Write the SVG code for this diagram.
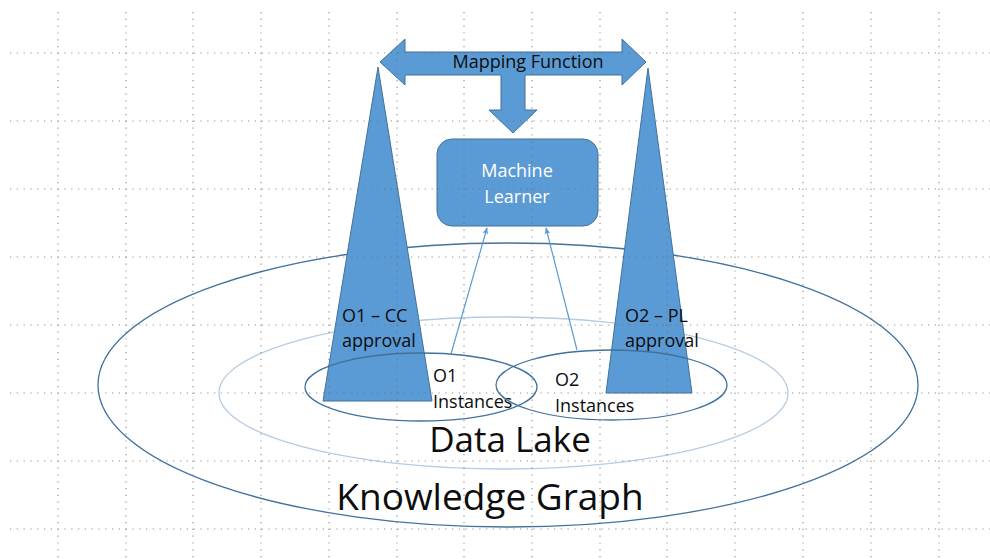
<svg xmlns="http://www.w3.org/2000/svg" width="990" height="559" viewBox="0 0 990 559">
  <style>
    .shape { fill: #5B9BD5; stroke: #41719C; stroke-width: 1; }
    .ring { fill: none; stroke: #41719C; stroke-width: 1.3; }
    .ring-light { fill: none; stroke: #B4CCE4; stroke-width: 1.3; }
    .link { fill: none; stroke: #5B9BD5; stroke-width: 1.2; marker-end: url(#head); }
    .txt { font-family: "Open Sans", "Liberation Sans", sans-serif; fill: #0D0D0D; }
    .grid line { stroke: #6E6E6E; stroke-width: 1.2; stroke-dasharray: 1.2 5.6; }
  </style>
  <defs>
    <marker id="head" viewBox="0 0 10 10" refX="9" refY="5" markerWidth="7" markerHeight="7" orient="auto" markerUnits="userSpaceOnUse">
      <path d="M0,1 L10,5 L0,9 L2.5,5 Z" fill="#5B9BD5"/>
    </marker>
  </defs>
  <rect width="990" height="559" fill="#FFFFFF"/>

  <!-- outer rings -->
  <g id="knowledge-graph">
    <ellipse class="ring" cx="508" cy="385" rx="410" ry="142"/>
    <text class="txt" x="490" y="510" font-size="37" text-anchor="middle">Knowledge Graph</text>
  </g>
  <g id="data-lake">
    <ellipse class="ring-light" cx="503.5" cy="393" rx="284.5" ry="76"/>
    <text class="txt" x="510" y="452" font-size="35" text-anchor="middle">Data Lake</text>
  </g>

  <!-- ontology towers -->
  <g id="o1-cc-approval">
    <polygon class="shape" points="378,67 432,401 323,401"/>
    <text class="txt" font-size="18"><tspan x="342" y="322">O1 – CC</tspan><tspan x="342" y="347">approval</tspan></text>
  </g>
  <g id="o2-pl-approval">
    <polygon class="shape" points="648,68 692,393 606,393"/>
    <text class="txt" font-size="18"><tspan x="625" y="322">O2 – PL</tspan><tspan x="625" y="347">approval</tspan></text>
  </g>

  <!-- instance sets -->
  <g id="o1-instances">
    <ellipse class="ring" cx="421" cy="387" rx="116" ry="34"/>
    <text class="txt" font-size="18"><tspan x="433" y="382">O1</tspan><tspan x="433" y="408">Instances</tspan></text>
  </g>
  <g id="o2-instances">
    <ellipse class="ring" cx="611.5" cy="385" rx="115.5" ry="35"/>
    <text class="txt" font-size="18"><tspan x="555" y="386">O2</tspan><tspan x="555" y="412">Instances</tspan></text>
  </g>

  <!-- mapping function arrow -->
  <g id="mapping-function">
    <polygon class="shape" points="380,62 405,39 405,52 622,52 622,39 646,62 622,85 622,75 525,75 525,110 537,110 513,133 489,110 501,110 501,75 405,75 405,85"/>
    <text class="txt" x="528" y="68" font-size="18" text-anchor="middle" fill="#1B2A3A">Mapping Function</text>
  </g>

  <!-- learner -->
  <g id="machine-learner">
    <rect class="shape" x="437" y="139" width="161" height="87" rx="15" ry="15"/>
    <text x="517" y="177" font-size="18" text-anchor="middle" font-family="'Open Sans', 'Liberation Sans', sans-serif" fill="#FFFFFF"><tspan x="517" y="177">Machine</tspan><tspan x="517" y="203">Learner</tspan></text>
  </g>

  <!-- instance feeds into the learner -->
  <g id="connectors">
    <line class="link" x1="451" y1="354" x2="487" y2="228"/>
    <line class="link" x1="577" y1="350" x2="546" y2="228"/>
  </g>

  <!-- dotted guide grid -->
  <g class="grid" opacity="0.75">
    <line x1="10" y1="53" x2="990" y2="53"/>
    <line x1="10" y1="121" x2="990" y2="121"/>
    <line x1="10" y1="189" x2="990" y2="189"/>
    <line x1="10" y1="257" x2="990" y2="257"/>
    <line x1="10" y1="325" x2="990" y2="325"/>
    <line x1="10" y1="393" x2="990" y2="393"/>
    <line x1="10" y1="461" x2="990" y2="461"/>
    <line x1="10" y1="529" x2="990" y2="529"/>
    <line x1="58" y1="12" x2="58" y2="559"/>
    <line x1="126" y1="12" x2="126" y2="559"/>
    <line x1="193" y1="12" x2="193" y2="559"/>
    <line x1="261" y1="12" x2="261" y2="559"/>
    <line x1="329" y1="12" x2="329" y2="559"/>
    <line x1="397" y1="12" x2="397" y2="559"/>
    <line x1="464" y1="12" x2="464" y2="559"/>
    <line x1="532" y1="12" x2="532" y2="559"/>
    <line x1="600" y1="12" x2="600" y2="559"/>
    <line x1="667" y1="12" x2="667" y2="559"/>
    <line x1="735" y1="12" x2="735" y2="559"/>
    <line x1="803" y1="12" x2="803" y2="559"/>
    <line x1="871" y1="12" x2="871" y2="559"/>
    <line x1="939" y1="12" x2="939" y2="559"/>
  </g>
</svg>
